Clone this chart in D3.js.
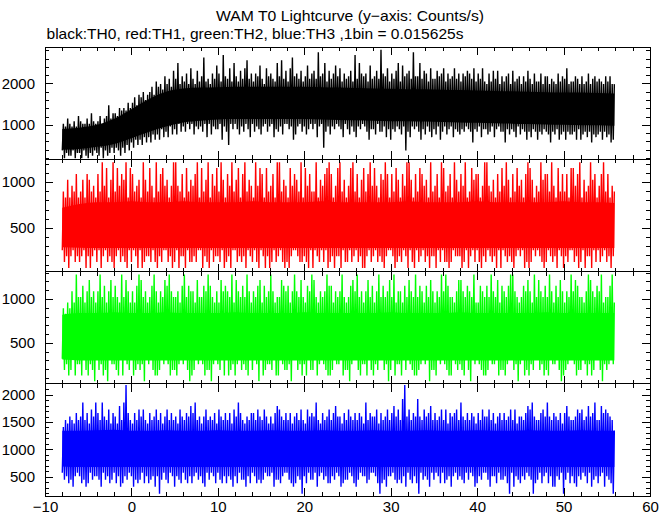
<!DOCTYPE html>
<html><head><meta charset="utf-8">
<script src="https://cdn.jsdelivr.net/npm/d3@7/dist/d3.min.js"></script>
<style>body{margin:0;background:#fff}svg{display:block}</style>
</head><body>
<svg id="chart" width="672" height="515"></svg>
<script>
// ---- data ----
// spikes: counts per bin, extreme high / low of each 0.25 s slice (rate = counts / binSec)
const binSec = 0.015625;
const tStart = -8, stepSec = 0.25;
const th0Hi = [16,15,18,16,15,17,15,19,17,16,16,18,16,20,17,16,17,19,16,18,19,23,18,20,20,19,22,21,22,21,24,22,
24,26,23,27,26,28,25,27,28,30,27,32,30,31,29,34,31,33,30,36,33,39,31,34,32,35,31,37,33,31,36,32,
34,41,32,33,31,35,33,38,35,32,42,34,33,37,32,39,34,32,36,33,37,40,33,35,32,35,34,38,33,31,37,34,
35,33,32,39,34,40,33,36,32,37,41,34,35,33,36,32,34,38,33,35,36,33,43,34,35,39,32,36,33,35,38,34,
37,32,35,33,34,36,32,42,33,39,35,34,35,32,38,33,34,36,33,44,35,34,37,32,35,33,36,39,32,38,34,35,
36,33,43,34,34,39,33,36,35,32,37,33,33,36,34,35,37,32,35,33,34,37,33,35,32,35,34,36,35,33,37,32,
35,33,37,32,31,35,32,36,33,36,31,34,32,34,35,31,36,32,33,34,31,34,32,36,33,31,35,32,32,35,31,34,
34,31,33,32,31,35,32,34,33,37,31,32,32,34,33,31,34,31,32,35,31,33,34,32,33,32,31,34,32,34,31,31];
const th0Lo = [6,3,5,4,4,6,3,5,5,3,6,4,3,5,4,6,5,4,7,3,6,4,5,7,5,7,6,4,7,5,8,6,
9,7,10,8,10,8,11,9,11,9,12,10,12,10,14,11,13,11,15,12,14,12,16,13,15,13,16,14,16,12,15,14,
15,13,16,11,16,12,15,14,14,16,10,15,13,8,16,14,16,14,12,15,13,16,14,11,16,13,15,14,12,15,16,13,
15,16,11,14,13,15,12,16,16,14,15,10,12,15,16,13,15,12,14,16,14,16,11,15,16,7,13,15,12,15,14,16,
15,14,11,16,14,12,15,13,11,15,14,16,15,13,10,14,14,12,16,13,13,15,11,14,10,14,13,15,14,12,15,6,
13,11,15,14,15,13,10,14,12,15,13,11,14,12,15,10,13,15,12,14,15,11,14,13,12,14,13,15,14,13,9,14,
13,15,11,14,14,12,13,15,11,14,15,13,13,9,14,12,14,13,11,15,12,14,13,10,13,11,14,13,10,13,12,14,
13,12,9,13,12,14,10,12,13,10,13,12,12,13,10,14,10,12,13,11,13,9,12,11,12,13,10,13,11,12,9,10];
const th1Hi = [14,13,16,13,15,14,17,13,14,16,13,17,16,14,15,13,17,14,19,15,18,13,16,19,14,18,15,17,16,19,13,18,
17,14,15,16,13,19,16,14,18,15,13,19,14,17,18,15,16,13,15,19,19,15,14,17,13,18,14,16,15,17,19,13,
18,14,16,19,13,17,15,18,14,19,16,13,17,15,19,14,16,18,13,17,19,14,16,15,13,19,15,18,17,13,18,14,
15,17,13,19,19,14,16,15,13,18,15,17,16,14,19,13,18,15,17,14,14,19,13,16,15,17,18,19,17,13,15,18,
19,14,16,13,15,18,19,14,17,13,16,18,14,17,19,15,18,15,13,17,16,19,17,13,17,14,18,16,13,17,15,19,
19,16,13,17,14,18,17,15,16,13,19,14,15,17,13,19,18,14,15,17,13,19,16,14,17,15,19,13,14,18,16,17,
17,13,15,19,19,15,14,16,13,17,14,18,15,19,16,13,17,14,18,15,16,13,17,19,18,16,13,15,14,19,16,17,
17,14,19,15,13,18,14,17,14,17,13,18,18,15,17,19,13,16,14,15,19,16,17,13,15,17,19,14,17,13,15,14];
const th1Lo = [4,2,3,1,3,4,2,3,2,3,4,1,3,1,3,4,2,4,1,3,4,2,3,2,1,3,4,2,3,2,1,4,
2,4,3,1,4,1,2,3,3,2,4,2,1,3,2,4,4,2,3,1,2,4,1,3,3,1,4,2,2,3,2,4,
4,1,3,2,1,4,2,3,3,2,4,1,2,3,1,4,4,2,3,2,3,1,4,3,2,4,2,1,4,3,1,3,
1,2,4,2,3,4,2,1,2,1,3,4,4,3,2,2,3,2,1,4,1,4,3,2,4,2,4,1,2,3,1,3,
3,1,4,2,2,4,2,3,4,2,3,1,1,3,4,2,3,4,2,3,2,1,3,4,4,3,1,2,3,2,4,3,
1,4,2,1,4,2,3,4,2,3,1,3,3,1,4,2,4,2,2,1,2,4,3,3,3,1,2,4,1,3,4,2,
4,2,1,3,2,4,3,2,3,1,4,1,4,3,2,3,2,1,3,4,3,4,1,2,1,2,4,3,4,3,2,1,
2,4,3,2,3,1,4,3,1,3,2,4,4,2,3,1,2,4,1,3,3,1,4,2,4,2,3,4,2,3,1,3];
const th2Hi = [14,13,15,14,17,15,20,16,16,18,15,17,19,16,17,15,17,20,16,18,15,17,19,16,18,16,15,20,16,19,17,15,
17,15,18,20,19,16,17,15,16,18,20,17,15,17,16,19,18,20,17,16,16,17,15,18,20,16,18,17,17,15,19,16,
16,18,17,20,18,16,15,17,15,19,17,18,17,16,20,15,19,17,16,18,16,20,17,15,17,16,18,19,15,18,16,17,
20,17,15,16,16,19,18,17,18,15,17,20,17,16,19,16,15,18,17,20,19,16,15,17,16,17,20,18,18,15,17,16,
17,20,16,15,16,18,19,17,20,16,17,15,17,19,16,18,15,17,20,16,18,16,17,19,16,20,15,17,17,15,18,16,
19,17,16,20,16,18,17,15,18,16,19,17,15,17,16,20,17,20,18,16,16,15,17,19,19,17,16,18,17,16,20,15,
15,18,17,16,18,16,20,17,16,19,15,18,17,16,18,20,20,17,16,15,16,18,17,19,17,15,20,16,19,17,16,18,
16,20,17,15,18,16,19,17,15,17,16,20,17,19,18,16,16,15,17,20,19,17,16,18,17,20,15,16,16,18,20,15];
const th2Lo = [5,3,4,2,3,5,2,4,4,2,5,3,2,4,3,1,5,3,4,2,3,1,5,4,4,3,2,5,2,5,4,3,
5,2,3,4,3,4,1,5,4,5,3,2,2,3,5,4,5,4,2,3,3,2,4,5,4,5,3,1,2,3,5,4,
5,4,2,3,3,1,4,5,4,3,5,2,5,2,3,4,2,4,5,3,4,3,2,5,3,5,4,1,5,2,3,4,
4,3,5,2,2,5,4,3,3,4,1,5,5,3,4,2,4,2,5,3,3,5,2,4,5,4,3,2,2,3,5,4,
4,5,2,3,3,1,4,5,5,3,2,4,4,2,5,3,2,4,3,5,5,3,4,1,3,5,2,4,4,2,5,3,
5,4,3,2,2,3,4,5,4,5,1,3,3,2,5,4,5,4,3,2,2,5,4,3,4,3,2,5,3,1,5,4,
5,4,3,2,2,3,5,4,4,5,2,3,3,2,4,5,5,3,4,1,4,5,2,3,2,4,3,5,5,3,4,2,
3,2,5,4,4,5,3,1,2,3,4,5,5,4,2,3,3,5,4,2,4,2,3,5,5,3,1,4,3,4,5,4];
const th3Hi = [22,24,23,25,24,23,26,24,25,29,24,26,23,27,25,29,26,24,29,25,24,27,23,26,25,23,28,24,29,34,26,24,
23,26,24,27,25,27,24,23,26,24,25,27,24,26,23,25,27,24,26,24,25,23,27,25,24,26,25,28,26,29,24,25,
23,25,27,24,25,24,26,23,27,25,24,26,24,26,23,27,25,29,26,24,23,25,24,26,26,24,27,25,24,27,25,23,
25,23,26,28,27,25,24,26,24,26,23,25,26,24,27,24,23,27,25,26,25,29,24,23,26,24,25,27,24,26,28,25,
25,23,26,24,27,25,24,26,24,26,25,23,29,24,26,25,25,27,23,26,24,25,27,24,26,28,25,27,24,30,34,25,
27,24,26,25,30,25,24,27,25,26,28,24,26,24,25,27,24,27,23,26,25,26,27,24,29,25,24,26,24,26,25,23,
26,24,27,25,25,27,24,26,23,25,26,24,26,24,25,27,24,27,23,25,25,24,26,28,27,29,25,24,24,26,27,25,
29,25,24,26,25,24,26,23,26,28,25,24,24,25,27,26,27,24,25,28,25,26,29,24,24,28,26,27,26,25,24,21];
const th3Lo = [9,7,8,6,7,5,8,9,8,6,7,5,6,9,7,8,8,7,5,9,7,8,6,7,9,6,8,5,6,8,7,9,
8,5,7,6,7,9,6,8,6,7,8,5,8,3,7,9,7,6,9,8,5,8,7,6,9,7,6,8,6,8,9,7,
8,6,5,9,7,9,8,6,9,7,6,8,6,8,7,5,8,6,9,7,7,5,8,6,9,8,6,7,6,7,9,8,
8,9,5,7,7,6,8,9,9,7,6,5,6,8,7,3,8,6,9,7,7,9,5,8,9,7,8,6,6,8,7,9,
8,5,6,7,7,9,8,6,5,7,9,8,8,6,7,9,9,8,6,3,6,7,5,8,8,9,7,6,7,6,8,5,
9,7,6,8,6,3,9,7,8,7,5,9,7,9,8,6,9,6,7,8,5,8,9,7,8,7,6,9,7,9,8,5,
6,8,7,9,9,7,5,8,8,6,9,7,7,8,6,3,9,5,8,7,6,8,7,9,8,7,3,6,7,9,6,8,
9,6,8,5,5,8,7,9,3,7,9,6,8,6,5,8,7,9,8,6,9,5,7,8,6,8,9,5,8,7,6,3];

// solid band (counts/s) every 2 s from t = -8 to 56
const coreStart = -8, coreStep = 2;
const th0CoreTop = [900,930,1000,1150,1380,1620,1800,1880,1900,1910,1920,1920,1920,1920,1920,1910,1900,1890,1880,1870,1860,1860,1850,1840,1830,1820,1810,1800,1790,1780,1780,1770,1760];
const th0CoreBot = [400,420,470,540,680,830,960,1060,1100,1130,1140,1140,1140,1140,1140,1130,1120,1110,1100,1090,1090,1080,1070,1060,1050,1040,1030,1020,1010,1000,990,990,980];
const th1CoreTop = [720,760,780,780,790,780,780,790,780,780,780,790,780,780,780,790,780,780,780,780,790,780,780,780,790,780,780,780,780,790,780,780,770];
const th1CoreBot = [290,285,280,280,280,280,280,280,280,280,280,280,280,280,280,280,280,280,280,280,280,280,280,280,280,280,280,280,280,280,280,280,280];
const th2CoreTop = [820,840,840,850,840,840,850,840,840,840,850,840,840,840,850,840,840,840,840,850,840,840,840,850,840,840,840,840,850,840,840,840,840];
const th2CoreBot = [310,300,300,300,300,300,300,300,300,300,300,300,300,300,300,300,300,300,300,300,300,300,300,300,300,300,300,300,300,300,300,300,300];
const th3CoreTop = [1340,1340,1350,1360,1340,1340,1350,1340,1340,1350,1340,1340,1350,1340,1340,1350,1340,1340,1350,1340,1340,1350,1340,1340,1350,1340,1340,1350,1340,1340,1350,1340,1340];
const th3CoreBot = [690,680,680,680,680,680,680,680,680,680,680,680,680,680,680,680,680,680,680,680,680,680,680,680,680,680,680,680,680,680,680,680,680];

const seriesHi = [th0Hi, th1Hi, th2Hi, th3Hi];
const seriesLo = [th0Lo, th1Lo, th2Lo, th3Lo];
const coreTop = [th0CoreTop, th1CoreTop, th2CoreTop, th3CoreTop];
const coreBot = [th0CoreBot, th1CoreBot, th2CoreBot, th3CoreBot];
const seriesColors = ["#000000", "#ff0000", "#00ff00", "#0000ff"];
const yDomains = [[170, 2880], [25, 1248], [34, 1314], [151, 2197]];
const yMajorStep = [1000, 500, 500, 500];
const yMinorStep = [200, 100, 100, 100];
const xDomain = [-10, 60];
const xMajorTicks = [-10, 0, 10, 20, 30, 40, 50, 60];
const xMinorStep = 2;
const titleText = "WAM T0 Lightcurve (y\u2212axis: Counts/s)";
const subtitleText = "black:TH0, red:TH1, green:TH2, blue:TH3 ,1bin = 0.015625s";

// ---- layout ----
const W = 672, H = 515;
const plotL = 45, plotR = 650, plotT = 47, plotB = 496;
const nP = 4, pH = (plotB - plotT) / nP;
const majLen = 8, minLen = 4;
const font = "'Liberation Sans', Arial, Helvetica, sans-serif";

const svg = d3.select("#chart");
svg.append("rect").attr("width", W).attr("height", H).attr("fill", "#fff");

svg.append("text").attr("x", 350).attr("y", 21).attr("text-anchor", "middle")
  .attr("font-family", font).attr("font-size", 15)
  .attr("textLength", 268).attr("lengthAdjust", "spacingAndGlyphs").text(titleText);
svg.append("text").attr("x", 46.5).attr("y", 39).attr("text-anchor", "start")
  .attr("font-family", font).attr("font-size", 15)
  .attr("textLength", 417).attr("lengthAdjust", "spacingAndGlyphs").text(subtitleText);

const x = d3.scaleLinear().domain(xDomain).range([plotL, plotR]);
const xMinor = d3.range(xDomain[0], xDomain[1] + 0.001, xMinorStep).filter(v => v % 10 !== 0);
const tEnd = tStart + seriesHi[0].length * stepSec - stepSec / 2;

const styleAxis = sel => {
  sel.select(".domain").remove();
  sel.selectAll("line").attr("stroke", "#000").attr("shape-rendering", "crispEdges");
  sel.selectAll("text").attr("font-family", font).attr("font-size", 15).attr("fill", "#000");
};

for (let p = 0; p < nP; p++) {
  const y0 = plotT + p * pH, y1 = y0 + pH;
  const y = d3.scaleLinear().domain(yDomains[p]).range([y1, y0]);
  const g = svg.append("g");

  const cid = "clip" + p;
  svg.append("clipPath").attr("id", cid).append("rect")
    .attr("x", plotL).attr("y", y0).attr("width", plotR - plotL).attr("height", pH);

  // solid band
  const core = coreTop[p].map((v, i) => ({t: Math.min(coreStart + i * coreStep, tEnd), top: v, bot: coreBot[p][i]}));
  const area = d3.area().x(d => x(d.t)).y0(d => y(d.bot)).y1(d => y(d.top)).curve(d3.curveMonotoneX);
  g.append("path").attr("clip-path", `url(#${cid})`).attr("d", area(core))
    .attr("fill", seriesColors[p]).attr("stroke", "none");

  // spikes: zigzag through low / high extremes
  const hi = seriesHi[p], lo = seriesLo[p];
  const n = Math.min(hi.length, lo.length);
  const pts = [];
  for (let i = 0; i < n; i++) {
    pts.push([tStart + i * stepSec, lo[i] / binSec]);
    pts.push([tStart + i * stepSec + stepSec / 2, hi[i] / binSec]);
  }
  const line = d3.line().x(d => x(d[0])).y(d => y(d[1]));
  g.append("path").attr("clip-path", `url(#${cid})`).attr("d", line(pts))
    .attr("fill", "none").attr("stroke", seriesColors[p]).attr("stroke-width", 1.4);

  const d = yDomains[p];
  const yMaj = d3.range(Math.ceil(d[0] / yMajorStep[p]) * yMajorStep[p], d[1], yMajorStep[p]);
  const yMin = d3.range(Math.ceil(d[0] / yMinorStep[p]) * yMinorStep[p], d[1], yMinorStep[p])
    .filter(v => v % yMajorStep[p] !== 0);

  g.append("g").attr("transform", `translate(${plotL},0)`)
    .call(d3.axisLeft(y).tickValues(yMaj).tickSize(-majLen).tickPadding(10).tickFormat(d3.format("d")))
    .call(styleAxis);
  g.append("g").attr("transform", `translate(${plotL},0)`)
    .call(d3.axisLeft(y).tickValues(yMin).tickSize(-minLen).tickFormat(""))
    .call(styleAxis);
  g.append("g").attr("transform", `translate(${plotR},0)`)
    .call(d3.axisRight(y).tickValues(yMaj).tickSize(-majLen).tickFormat(""))
    .call(styleAxis);
  g.append("g").attr("transform", `translate(${plotR},0)`)
    .call(d3.axisRight(y).tickValues(yMin).tickSize(-minLen).tickFormat(""))
    .call(styleAxis);

  g.append("g").attr("transform", `translate(0,${y0})`)
    .call(d3.axisTop(x).tickValues(xMajorTicks).tickSize(-majLen).tickFormat(""))
    .call(styleAxis);
  g.append("g").attr("transform", `translate(0,${y0})`)
    .call(d3.axisTop(x).tickValues(xMinor).tickSize(-minLen).tickFormat(""))
    .call(styleAxis);
  g.append("g").attr("transform", `translate(0,${y1})`)
    .call(d3.axisBottom(x).tickValues(xMajorTicks).tickSize(-majLen).tickPadding(5)
      .tickFormat(p === nP - 1 ? d3.format("d") : ""))
    .call(styleAxis);
  g.append("g").attr("transform", `translate(0,${y1})`)
    .call(d3.axisBottom(x).tickValues(xMinor).tickSize(-minLen).tickFormat(""))
    .call(styleAxis);

  g.append("rect").attr("x", plotL).attr("y", y0).attr("width", plotR - plotL).attr("height", pH)
    .attr("fill", "none").attr("stroke", "#000").attr("stroke-width", 1).attr("shape-rendering", "crispEdges");
}
</script>
</body></html>
